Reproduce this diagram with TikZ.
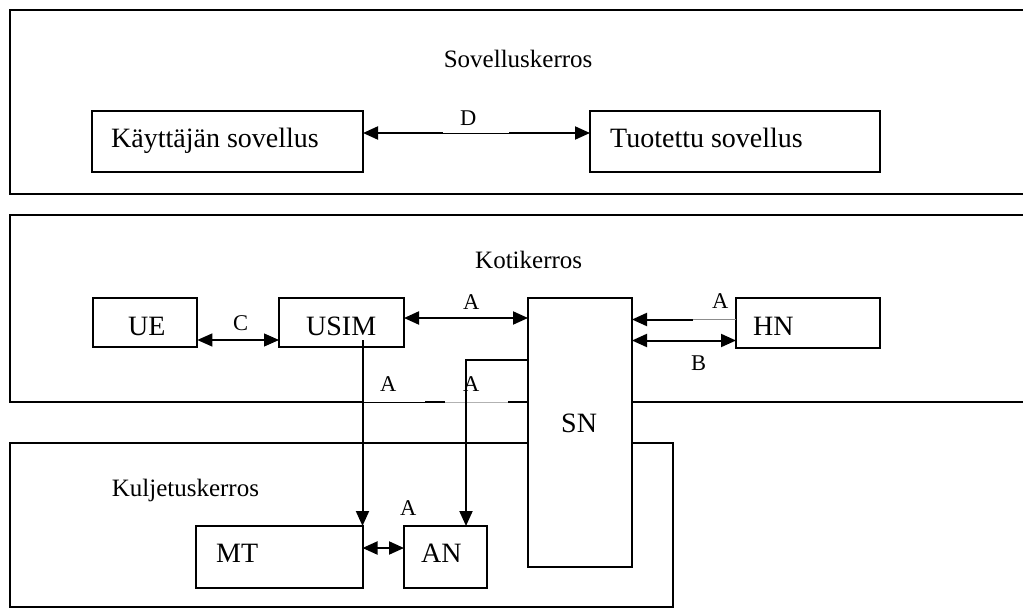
\documentclass[tikz,border=0pt]{standalone}
\usepackage{fontspec}
\setmainfont{Liberation Serif}
\usetikzlibrary{arrows.meta}
\begin{document}
\begin{tikzpicture}[x=1pt,y=-1pt,
  box/.style={draw, line width=2pt, fill=white, inner sep=0pt, outer sep=0pt, anchor=north west},
  frame/.style={line width=2pt},
  big/.style={font=\fontsize{28}{31}\selectfont, inner sep=0pt, anchor=base west},
  layer/.style={font=\fontsize{25}{28}\selectfont, inner sep=0pt, anchor=base west},
  lbl/.style={font=\fontsize{22.5}{26}\selectfont, inner sep=0pt, anchor=base west},
  conn/.style={line width=2pt},
  thinconn/.style={line width=1.2pt},
  >={Triangle[length=15pt,width=13pt]}
]
\useasboundingbox (0,0) rectangle (1023,610);

% layer frames
\draw[frame] (1040,10) -- (10,10) -- (10,194) -- (1040,194);
\draw[frame] (1040,215) -- (10,215) -- (10,402) -- (362,402);
\draw[line width=1pt] (362,402) -- (425,402);
\draw[frame] (425,402) -- (445,402);
\draw[line width=0.8pt, black!30] (445,402) -- (508,402);
\draw[frame] (508,402) -- (528,402);
\draw[frame] (632,402) -- (1040,402);
\draw[frame] (10,443) rectangle (673,607);

% boxes
\node[box, minimum width=104pt, minimum height=269pt] (sn) at (528,298) {};
\node[box, minimum width=271pt, minimum height=61pt] (kay) at (92,111) {};
\node[box, minimum width=290pt, minimum height=61pt] (tuo) at (590,111) {};
\node[box, minimum width=104.6pt, minimum height=49pt] (ue) at (92.7,298) {};
\node[box, minimum width=125pt, minimum height=49pt] (usim) at (279,298) {};
\node[box, minimum width=144pt, minimum height=50pt] (hn) at (736,298) {};
\node[box, minimum width=166.5pt, minimum height=62pt] (mt) at (196,526) {};
\node[box, minimum width=82.6pt, minimum height=62pt] (an) at (404,526) {};

% texts
\node[layer] (t1) at (443.6,68) {Sovelluskerros};
\node[layer] (t2) at (475,268) {Kotikerros};
\node[layer] (t3) at (111.6,496) {Kuljetuskerros};
\node[big] (tk) at (111,147) {Käyttäjän sovellus};
\node[big] (tt) at (610,147) {Tuotettu sovellus};
\node[big] (tue) at (128,335) {UE};
\node[big] (tus) at (306,335) {USIM};
\node[big] (thn) at (753,335) {HN};
\node[big] (tsn) at (561,432) {SN};
\node[big] (tmt) at (216,562) {MT};
\node[big] (tan) at (421,562) {AN};

% connectors
\coordinate (d1) at ([yshift=8.5pt]kay.east);
\draw[conn,<->] (d1) -- (d1 -| tuo.west);
\draw[line width=2.6pt, white] (443,133) -- (509,133);
\draw[line width=1pt] (443,133) -- (509,133);

\coordinate (c1) at ([yshift=-17.5pt]ue.east);
\draw[thinconn,<->] (c1) -- (c1 -| usim.west);

\coordinate (a1) at ([yshift=4.5pt]usim.east);
\draw[conn,<->] (a1) -- (a1 -| sn.west);

\coordinate (h1) at ([yshift=3.5pt]hn.west);
\coordinate (h2) at ([xshift=-43pt]h1);
\draw[line width=0.9pt, black!45] (h1) -- (h2);
\draw[conn,->] (h2) -- (h1 -| sn.east);

\coordinate (b1) at ([yshift=-17.5pt]hn.west);
\draw[conn,<->] (b1) -- (b1 -| sn.east);

\coordinate (u1) at ([yshift=-17.5pt]usim.center);
\draw[conn,->] (u1 -| mt.north east) -- (mt.north east);

\coordinate (s1) at ([yshift=-62pt]sn.north west);
\coordinate (s2) at ([xshift=20.7pt]an.north);
\draw[conn,->] (s1) -| (s2);

\coordinate (m1) at ([yshift=9pt]mt.east);
\draw[conn,<->] (m1) -- (m1 -| an.west);

% connector labels
\node[lbl] (lD) at (460,125) {D};
\node[lbl] (lC) at (233,330) {C};
\node[lbl] (lA1) at (463,309) {A};
\node[lbl] (lA2) at (712,308) {A};
\node[lbl] (lB) at (691,370) {B};
\node[lbl] (lA3) at (380,391) {A};
\node[lbl] (lA4) at (463,391) {A};
\node[lbl] (lA5) at (400,515) {A};
\end{tikzpicture}
\end{document}
